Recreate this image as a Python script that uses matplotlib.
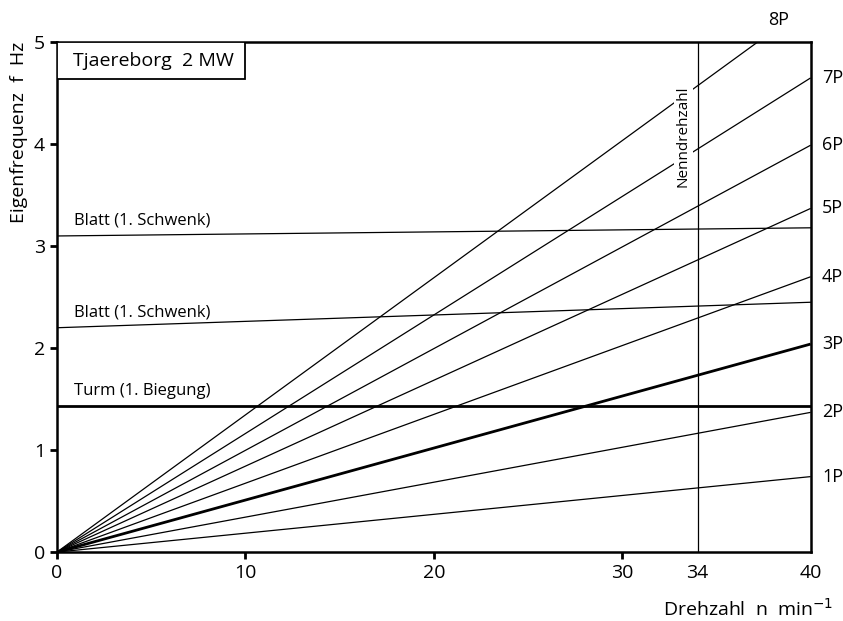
import numpy as np
import matplotlib.pyplot as plt
from matplotlib.patches import Rectangle

plt.rcParams['font.family'] = ['Open Sans', 'DejaVu Sans']

# Drehzahl range and rated speed
n_range = [0, 40]
n_rated = 34

# excitation orders: value of f at n = 40
orders = ["1P", "2P", "3P", "4P", "5P", "6P", "7P", "8P"]
f_end = [0.74, 1.37, 2.04, 2.70, 3.37, 3.99, 4.65, 5.38]

# natural frequencies: value at n = 0 and n = 40
modes = ["Blatt (1. Schwenk)", "Blatt (1. Schwenk)", "Turm (1. Biegung)"]
mode_start = [3.10, 2.20, 1.43]
mode_end = [3.18, 2.45, 1.43]

fig = plt.figure(figsize=(8.43, 6.21), dpi=100)
ax = fig.add_axes([0.0676, 0.111, 0.894, 0.821])

for name, fe in zip(orders, f_end):
  lw = 2.0 if name == "3P" else 0.9
  ax.plot(n_range, [0, fe], color='black', lw=lw, solid_capstyle='butt')
  if name == "8P":
    ax.text(38.3, 5.13, name, fontsize=13, ha='center', va='bottom')
  else:
    ax.text(40.6, min(fe, 4.67), name, fontsize=13, ha='left', va='center', clip_on=False)

for name, fs, fe in zip(modes, mode_start, mode_end):
  lw = 2.0 if name.startswith("Turm") else 0.9
  ax.plot(n_range, [fs, fe], color='black', lw=lw)
  ax.text(0.9, fs + 0.07, name, fontsize=12, ha='left', va='bottom')

ax.axvline(n_rated, color='black', lw=0.9)
ax.text(n_rated - 0.75, 4.08, "Nenndrehzahl", rotation=90, fontsize=11,
        ha='center', va='center',
        bbox=dict(facecolor='white', edgecolor='none', pad=1.5))

ax.add_patch(Rectangle((0, 1 - 0.073), 0.249, 0.073, transform=ax.transAxes,
                       facecolor='white', edgecolor='black', lw=1.3, zorder=3))
ax.text(0.021, 1 - 0.0365, "Tjaereborg  2 MW", transform=ax.transAxes, fontsize=14,
        ha='left', va='center', zorder=4)

ax.set_xlim(0, 40)
ax.set_ylim(0, 5)
ax.set_xticks([0, 10, 20, 30, 34, 40])
ax.set_yticks([0, 1, 2, 3, 4, 5])
ax.tick_params(axis='both', labelsize=14, length=5, width=2, direction='out')
ax.xaxis.get_major_ticks()[4].tick1line.set_visible(False)
ax.xaxis.get_major_ticks()[5].tick1line.set_visible(False)
for sp in ax.spines.values():
  sp.set_linewidth(1.8)

ax.set_ylabel("Eigenfrequenz  f  Hz", fontsize=14, loc='top')
ax.set_xlabel("Drehzahl  n  min$^{-1}$", fontsize=14, loc='right')
ax.xaxis.set_label_coords(1.03, -0.09)

fig.savefig("out.png", dpi=100)
plt.close()
